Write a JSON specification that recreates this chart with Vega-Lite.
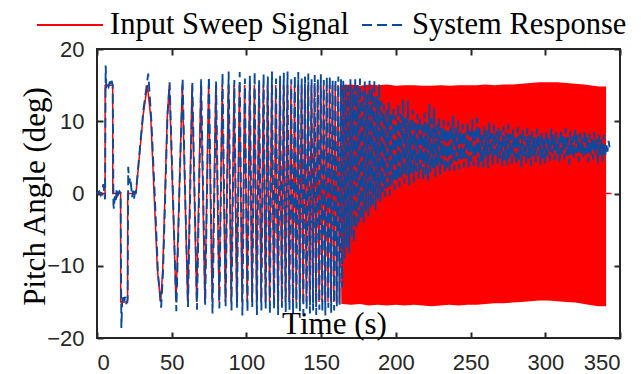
{
"$schema": "https://vega.github.io/schema/vega-lite/v6.json",
"width": 523, "height": 289,
"autosize": {"type": "none"},
"padding": {"left": 97, "top": 49, "right": 21, "bottom": 36},
"background": "white",
"config": {
 "view": {"stroke": "#262626", "strokeWidth": 2},
 "axis": {"domain": false, "grid": false, "ticks": true, "tickColor": "#262626", "tickWidth": 2, "tickSize": -6, "labelFont": "Liberation Sans", "labelFontSize": 22, "labelColor": "#262626", "titleFont": "Liberation Serif", "titleFontSize": 31, "titleFontWeight": "normal", "titleColor": "#000000"},
 "legend": {"orient": "none", "direction": "horizontal", "title": null, "symbolType": "stroke", "symbolStrokeWidth": 2, "labelFont": "Liberation Serif", "labelFontSize": 30.5, "labelColor": "#000000", "labelOffset": 6, "padding": 0, "labelLimit": 400}
},
"datasets": {
 "band": [
  {"t":164,"lo":-15.3,"hi":15},{"t":170,"lo":-15.4,"hi":15.1},{"t":176,"lo":-15.3,"hi":14.9},{"t":182,"lo":-15.5,"hi":15.1},{"t":188,"lo":-15.4,"hi":15},{"t":194,"lo":-15.5,"hi":15.1},{"t":200,"lo":-15.4,"hi":14.9},{"t":206,"lo":-15.5,"hi":15},{"t":212,"lo":-15.4,"hi":15},{"t":218,"lo":-15.5,"hi":14.9},{"t":224,"lo":-15.6,"hi":14.9},{"t":230,"lo":-15.5,"hi":15},{"t":236,"lo":-15.4,"hi":14.9},{"t":242,"lo":-15.5,"hi":15},{"t":248,"lo":-15.4,"hi":15},{"t":254,"lo":-15.4,"hi":15},{"t":260,"lo":-15.3,"hi":15.1},{"t":266,"lo":-15.2,"hi":15},{"t":272,"lo":-15.2,"hi":15.1},{"t":278,"lo":-15.1,"hi":15.1},{"t":284,"lo":-15,"hi":15.2},{"t":290,"lo":-14.9,"hi":15.3},{"t":296,"lo":-14.8,"hi":15.4},{"t":302,"lo":-14.8,"hi":15.4},{"t":308,"lo":-14.9,"hi":15.4},{"t":314,"lo":-15,"hi":15.3},{"t":320,"lo":-15.1,"hi":15.2},{"t":326,"lo":-15.3,"hi":15.1},{"t":332,"lo":-15.5,"hi":14.9},{"t":336,"lo":-15.6,"hi":14.8},{"t":340.7,"lo":-15.6,"hi":14.8}
 ],
 "red": [
  {"t":0,"y":0},{"t":5.4,"y":0},{"t":5.45,"y":15},{"t":10.5,"y":15},{"t":10.55,"y":0},{"t":15.8,"y":0},{"t":15.85,"y":-15},{"t":20.5,"y":-15},{"t":20.55,"y":0},{"t":26.1,"y":0},{"t":28.5,"y":5.5},{"t":31,"y":11},{"t":33.7,"y":15},{"t":36,"y":10.5},{"t":38.2,"y":0},{"t":40.4,"y":-10.5},{"t":42.6,"y":-15},{"t":44,"y":-10.5},{"t":45.5,"y":0},{"t":47,"y":10.5},{"t":48.4,"y":15},{"t":50.65,"y":0},{"t":52.9,"y":-15},{"t":55,"y":0},{"t":57.1,"y":15},{"t":58.9,"y":0},{"t":60.7,"y":-15},{"t":62.15,"y":0},{"t":63.6,"y":15},{"t":65.15,"y":0},{"t":66.7,"y":-15},
  {"t":69.5,"y":15},{"t":72.2,"y":-15},{"t":74.7,"y":15},{"t":77.1,"y":-15},{"t":79.5,"y":15},{"t":81.7,"y":-15},{"t":83.8,"y":15},{"t":85.9,"y":-15},{"t":87.9,"y":15},{"t":89.8,"y":-15},{"t":91.7,"y":15},{"t":93.5,"y":-15},{"t":95.3,"y":15},{"t":97.1,"y":-15},{"t":98.8,"y":15},{"t":100.5,"y":-15},{"t":102.1,"y":15},{"t":103.7,"y":-15},{"t":105.3,"y":15},{"t":106.8,"y":-15},{"t":108.3,"y":15},{"t":109.8,"y":-15},{"t":111.3,"y":15},{"t":112.7,"y":-15},{"t":114.1,"y":15},{"t":115.5,"y":-15},{"t":116.9,"y":15},{"t":118.3,"y":-15},{"t":119.6,"y":15},{"t":121,"y":-15},{"t":122.3,"y":15},{"t":123.6,"y":-15},{"t":124.8,"y":15},{"t":126.1,"y":-15},{"t":127.3,"y":15},{"t":128.6,"y":-15},{"t":129.8,"y":15},{"t":131,"y":-15},{"t":132.2,"y":15},{"t":133.3,"y":-15},{"t":134.5,"y":15},{"t":135.6,"y":-15},{"t":136.8,"y":15},{"t":137.9,"y":-15},{"t":139,"y":15},{"t":140.1,"y":-15},{"t":141.2,"y":15},{"t":142.3,"y":-15},{"t":143.4,"y":15},{"t":144.4,"y":-15},{"t":145.5,"y":15},{"t":146.5,"y":-15},{"t":147.6,"y":15},{"t":148.6,"y":-15},{"t":149.6,"y":15},{"t":150.6,"y":-15},{"t":151.6,"y":15},{"t":152.6,"y":-15},{"t":153.6,"y":15},{"t":154.6,"y":-15},{"t":155.6,"y":15},{"t":156.5,"y":-15},{"t":157.5,"y":15},{"t":158.5,"y":-15},{"t":159.4,"y":15},{"t":160.3,"y":-15.2},{"t":161.3,"y":15},{"t":162.2,"y":-15.2},{"t":163.1,"y":15},{"t":164,"y":-15.3},{"t":164.9,"y":15}
 ],
 "redend": [{"t":340.7,"y":0},{"t":344.3,"y":0}],
 "blue": [
  {"t":0,"y":0},{"t":1.5,"y":0.3},{"t":2.5,"y":-0.2},{"t":3.6,"y":0.6},{"t":4.3,"y":1.3},{"t":4.9,"y":0.1},{"t":5.4,"y":-0.8},{"t":5.8,"y":17.7},{"t":6.3,"y":14.6},{"t":7,"y":15.2},{"t":7.8,"y":14.8},{"t":8.6,"y":15.5},{"t":9.3,"y":14.9},{"t":9.8,"y":15.6},{"t":10.5,"y":15},{"t":11,"y":-1.5},{"t":11.3,"y":-2.1},{"t":11.9,"y":-0.4},{"t":12.5,"y":-1.2},{"t":13.2,"y":0.7},{"t":14,"y":-0.2},{"t":15,"y":0.3},{"t":15.8,"y":0.1},{"t":16.3,"y":-18.6},{"t":16.8,"y":-15.2},{"t":17.4,"y":-14},{"t":18.2,"y":-14.9},{"t":18.9,"y":-14.3},{"t":19.6,"y":-15.3},{"t":20.5,"y":-14.6},{"t":20.9,"y":3.7},{"t":21.5,"y":1.4},{"t":22.3,"y":2.2},{"t":22.9,"y":0.9},{"t":23.5,"y":-0.5},{"t":24.3,"y":0.4},{"t":24.8,"y":-0.7},{"t":25.4,"y":0.2},{"t":26.1,"y":0.2},
  {"t":28.5,"y":5.8},{"t":31,"y":11.5},{"t":34.3,"y":16.6},{"t":36.4,"y":10},{"t":38.6,"y":0},{"t":40.8,"y":-11},{"t":42.9,"y":-15.8},{"t":44.2,"y":-10.8},{"t":45.7,"y":0},{"t":47.2,"y":11},{"t":48.6,"y":15.4},{"t":50.8,"y":0},{"t":53.1,"y":-16.3},{"t":55.1,"y":0},{"t":57.3,"y":15.9},{"t":59,"y":0},{"t":60.9,"y":-15.7},{"t":63.8,"y":15.3},{"t":66.9,"y":-16.1},{"t":69.7,"y":15.8},{"t":72.4,"y":-15.4},{"t":74.9,"y":16.2},{"t":77.3,"y":-16.6},{"t":79.7,"y":15.5},{"t":81.9,"y":-15.9},{"t":84,"y":16.7},{"t":86.1,"y":-15.6},{"t":88.1,"y":16.9},{"t":90,"y":-16.2},{"t":91.9,"y":15.7},{"t":93.7,"y":-15.8},{"t":95.5,"y":16.8},{"t":97.3,"y":-16.9},{"t":99,"y":15.9},{"t":100.7,"y":-16.4},{"t":102.3,"y":16.3},{"t":103.9,"y":-15.7},{"t":105.5,"y":16.9},{"t":107,"y":-16.8},{"t":108.5,"y":15.8},{"t":110,"y":-16.2},{"t":111.5,"y":16.6},{"t":112.9,"y":-15.9},{"t":114.3,"y":16.2},{"t":115.7,"y":-16.7},{"t":117.1,"y":16.9},{"t":118.5,"y":-16},{"t":119.8,"y":15.9},{"t":121.2,"y":-16.8},{"t":122.5,"y":16.3},{"t":123.8,"y":-15.8},{"t":125,"y":16.7},{"t":126.3,"y":-16.4},{"t":127.5,"y":16.9},{"t":128.8,"y":-16.1},{"t":130,"y":15.8},{"t":131.2,"y":-16.6},{"t":132.4,"y":16.4},{"t":133.5,"y":-15.9},{"t":134.7,"y":16.8},{"t":135.8,"y":-16.3},{"t":137,"y":15.9},{"t":138.1,"y":-16.7},{"t":139.2,"y":16.2},{"t":140.3,"y":-16.1},{"t":141.4,"y":16.6},{"t":142.5,"y":-16.6},{"t":143.6,"y":15.8},{"t":144.6,"y":-16.2},{"t":145.7,"y":16.4},{"t":146.7,"y":-16.8},{"t":147.8,"y":15.9},{"t":148.8,"y":-16.1},{"t":149.8,"y":16.5},{"t":150.8,"y":-16.4},{"t":151.8,"y":15.7},{"t":152.8,"y":-16.9},{"t":153.8,"y":16.1},{"t":154.8,"y":-15.8},{"t":155.8,"y":16.3},{"t":156.7,"y":-16.5},{"t":157.7,"y":15.6},{"t":158.7,"y":-16.2},{"t":159.6,"y":15.9},{"t":160.5,"y":-15.6},{"t":161.5,"y":16.2},{"t":162.4,"y":-15.4},{"t":163.3,"y":15.8},
  {"t":164,"y":-13},{"t":164.8,"y":15.6},{"t":165.6,"y":-9},{"t":166.4,"y":15.2},{"t":167.2,"y":-7.5},{"t":168,"y":14.8},{"t":168.8,"y":-8.3},{"t":169.6,"y":15.8},{"t":170.4,"y":-6},{"t":171.2,"y":14.5},{"t":172,"y":-6.8},{"t":172.8,"y":16},{"t":173.6,"y":-5},{"t":174.4,"y":15},{"t":175.2,"y":-4.2},{"t":176,"y":15.9},{"t":176.8,"y":-3.5},{"t":177.6,"y":14.2},{"t":178.4,"y":-4},{"t":179.2,"y":15.5},{"t":180,"y":-2.5},{"t":180.8,"y":13.8},{"t":181.6,"y":-3.2},{"t":182.4,"y":15.6},{"t":183.2,"y":-2},{"t":184,"y":14.6},{"t":184.8,"y":-1.5},{"t":185.6,"y":15.8},{"t":186.4,"y":-2.3},{"t":187.2,"y":13.5},{"t":188,"y":-0.8},{"t":188.8,"y":15.2},{"t":189.6,"y":-1.2},{"t":190.4,"y":12.8},{"t":191.2,"y":0.2},{"t":192,"y":12.3},{"t":192.8,"y":-0.5},{"t":193.6,"y":11.5},{"t":194.4,"y":0.8},{"t":195.2,"y":12.6},{"t":196,"y":-0.3},{"t":196.8,"y":11.2},{"t":197.6,"y":1.2},{"t":198.4,"y":12},{"t":199.2,"y":0.5},{"t":200,"y":10.8},{"t":200.8,"y":1.8},{"t":201.6,"y":12.5},{"t":202.4,"y":0.9},{"t":203.2,"y":11},{"t":204,"y":2.2},{"t":204.8,"y":13},{"t":205.6,"y":1.4},{"t":206.4,"y":10.5},{"t":207.2,"y":2.5},{"t":208,"y":12.8},{"t":208.8,"y":1.1},{"t":209.6,"y":10.2},{"t":210.4,"y":2.8},{"t":211.2,"y":11.6},{"t":212,"y":1.5},{"t":212.8,"y":9.8},{"t":213.6,"y":3},{"t":214.4,"y":11},{"t":215.2,"y":2},{"t":216,"y":10.6},{"t":216.8,"y":3.4},{"t":217.6,"y":9.5},{"t":218.4,"y":1.8},{"t":219.2,"y":11.2},{"t":220,"y":2.6},{"t":220.8,"y":9.8},{"t":221.6,"y":1.7},{"t":222.4,"y":12.4},{"t":223.2,"y":2.9},{"t":224,"y":10.4},{"t":224.8,"y":3.5},{"t":225.6,"y":11.8},{"t":226.4,"y":2.3},{"t":227.2,"y":9.6},{"t":228,"y":3.8},{"t":228.8,"y":10.5},{"t":229.6,"y":2.6},{"t":230.4,"y":9.2},{"t":231.2,"y":4},{"t":232,"y":10.2},{"t":232.8,"y":2.8},{"t":233.6,"y":8.9},{"t":234.4,"y":3.6},{"t":235.2,"y":10},{"t":236,"y":2.9},{"t":236.8,"y":9.4},{"t":237.6,"y":4.1},{"t":238.4,"y":10.8},{"t":239.2,"y":3.2},{"t":240,"y":9},{"t":240.8,"y":4.4},{"t":241.6,"y":10.1},{"t":242.4,"y":3.4},{"t":243.2,"y":8.8},{"t":244,"y":4.6},{"t":244.8,"y":9.6},{"t":245.6,"y":3.6},{"t":246.4,"y":8.4},{"t":247.2,"y":4.8},{"t":248,"y":9.9},{"t":248.8,"y":3.4},{"t":249.6,"y":8.6},{"t":250.4,"y":4.5},{"t":251.2,"y":10.3},{"t":252,"y":3.8},{"t":252.8,"y":9},{"t":253.6,"y":5},{"t":254.4,"y":10.5},{"t":255.2,"y":3.3},{"t":256,"y":9.2},{"t":256.8,"y":4.4},{"t":257.6,"y":8.3},{"t":258.4,"y":3.6},{"t":259.2,"y":9.4},{"t":260,"y":4.8},{"t":260.8,"y":8.7},{"t":261.6,"y":3.5},{"t":262.4,"y":9.8},{"t":263.2,"y":5.1},{"t":264,"y":8.4},{"t":264.8,"y":4},{"t":265.6,"y":9.5},{"t":266.4,"y":5.3},{"t":267.2,"y":8.8},{"t":268,"y":4.2},{"t":268.8,"y":9.1},{"t":269.6,"y":4.9},
  {"t":270.4,"y":8.6},{"t":271.2,"y":3.8},{"t":272,"y":9.3},{"t":272.8,"y":4.6},{"t":273.6,"y":8.5},{"t":274.4,"y":3.9},{"t":275.2,"y":9.6},{"t":276,"y":4.9},{"t":276.8,"y":8.2},{"t":277.6,"y":4.1},{"t":278.4,"y":8.9},{"t":279.2,"y":5},{"t":280,"y":8},{"t":280.8,"y":3.9},{"t":281.6,"y":9.2},{"t":282.4,"y":4.7},{"t":283.2,"y":8.3},{"t":284,"y":3.6},{"t":284.8,"y":8.8},{"t":285.6,"y":5},{"t":286.4,"y":7.9},{"t":287.2,"y":4.2},{"t":288,"y":9.1},{"t":288.8,"y":4.8},{"t":289.6,"y":8.1},{"t":290.4,"y":3.8},{"t":291.2,"y":8.6},{"t":292,"y":5.1},{"t":292.8,"y":7.8},{"t":293.6,"y":4.3},{"t":294.4,"y":9},{"t":295.2,"y":5.2},{"t":296,"y":8},{"t":296.8,"y":4},{"t":297.6,"y":8.5},{"t":298.4,"y":4.8},{"t":299.2,"y":7.7},{"t":300,"y":4.2},{"t":300.8,"y":8.7},{"t":301.6,"y":5.2},{"t":302.4,"y":7.9},{"t":303.2,"y":4.5},{"t":304,"y":9},{"t":304.8,"y":5.4},{"t":305.6,"y":8.1},{"t":306.4,"y":4.6},{"t":307.2,"y":8.5},{"t":308,"y":5.1},{"t":308.8,"y":7.7},{"t":309.6,"y":4.3},{"t":310.4,"y":8.8},{"t":311.2,"y":5.5},{"t":312,"y":8},{"t":312.8,"y":4.7},{"t":313.6,"y":9.1},{"t":314.4,"y":5.3},{"t":315.2,"y":7.8},{"t":316,"y":4},{"t":316.8,"y":8.6},{"t":317.6,"y":5.4},{"t":318.4,"y":7.9},{"t":319.2,"y":4.8},{"t":320,"y":8.9},{"t":320.8,"y":5.6},{"t":321.6,"y":8.1},{"t":322.4,"y":4.4},{"t":323.2,"y":8.4},{"t":324,"y":5.5},{"t":324.8,"y":7.6},{"t":325.6,"y":4.9},{"t":326.4,"y":8.8},{"t":327.2,"y":5.4},{"t":328,"y":7.8},{"t":328.8,"y":4.3},{"t":329.6,"y":8.3},{"t":330.4,"y":5.2},{"t":331.2,"y":7.7},{"t":332,"y":4.7},{"t":332.8,"y":8.5},{"t":333.6,"y":5.5},{"t":334.4,"y":7.9},{"t":335.2,"y":4.2},{"t":336,"y":8.1},{"t":336.8,"y":5.1},{"t":337.6,"y":7.5},{"t":338.4,"y":4.5},{"t":339.2,"y":8.2},{"t":340,"y":5},{"t":340.8,"y":7},{"t":341.6,"y":5.8},{"t":342.4,"y":7.3},{"t":343,"y":6.4}
 ]
},
"layer": [
 {
  "data": {"name": "band"},
  "mark": {"type": "area", "color": "#ff0000", "opacity": 1},
  "encoding": {
   "x": {"field": "t", "type": "quantitative", "scale": {"domain": [0, 350], "nice": false, "zero": false},
         "axis": {"orient": "bottom", "values": [0,50,100,150,200,250,300,350], "labelPadding": 20, "title": "Time (s)", "titleX": 237, "titleY": -5, "titleBaseline": "alphabetic", "titleAlign": "center", "titleAnchor": null}},
   "y": {"field": "lo", "type": "quantitative", "scale": {"domain": [-20, 20], "nice": false},
         "axis": {"orient": "left", "values": [-20,-10,0,10,20], "labelPadding": 19, "title": "Pitch Angle (deg)", "titleX": -53, "titleY": 147, "titleAngle": -90, "titleBaseline": "alphabetic", "titleAlign": "center"}},
   "y2": {"field": "hi"}
  }
 },
 {
  "data": {"name": "red"},
  "mark": {"type": "line", "strokeWidth": 1.5},
  "encoding": {
   "x": {"field": "t", "type": "quantitative", "axis": null},
   "y": {"field": "y", "type": "quantitative", "axis": null},
   "color": {"datum": "Input Sweep Signal", "type": "nominal",
     "scale": {"domain": ["Input Sweep Signal"], "range": ["#ff0000"]},
     "legend": {"legendX": -61, "legendY": -58, "symbolSize": 4356}}
  }
 },
 {
  "data": {"name": "redend"},
  "mark": {"type": "line", "strokeWidth": 1.5, "color": "#ff0000"},
  "encoding": {
   "x": {"field": "t", "type": "quantitative", "axis": null},
   "y": {"field": "y", "type": "quantitative", "axis": null}
  }
 },
 {
  "data": {"name": "blue"},
  "mark": {"type": "line", "strokeWidth": 1.9, "color": "#0a4a9e", "opacity": 1},
  "encoding": {
   "x": {"field": "t", "type": "quantitative", "axis": {"orient": "top", "values": [0,50,100,150,200,250,300,350], "labels": false, "title": null}},
   "y": {"field": "y", "type": "quantitative", "axis": {"orient": "right", "values": [-20,-10,0,10,20], "labels": false, "title": null}},
   "strokeDash": {"datum": "System Response", "type": "nominal",
     "scale": {"domain": ["System Response"], "range": [[10, 5]]},
     "legend": {"legendX": 264, "legendY": -46.5, "symbolSize": 1849, "symbolStrokeColor": "#0a4a9e",
       "encode": {"symbols": {"update": {"strokeDash": {"value": [20, 6]}, "stroke": {"value": "#0a4a9e"}}}}}}
  }
 }
],
"resolve": {"axis": {"x": "independent", "y": "independent"}}
}
